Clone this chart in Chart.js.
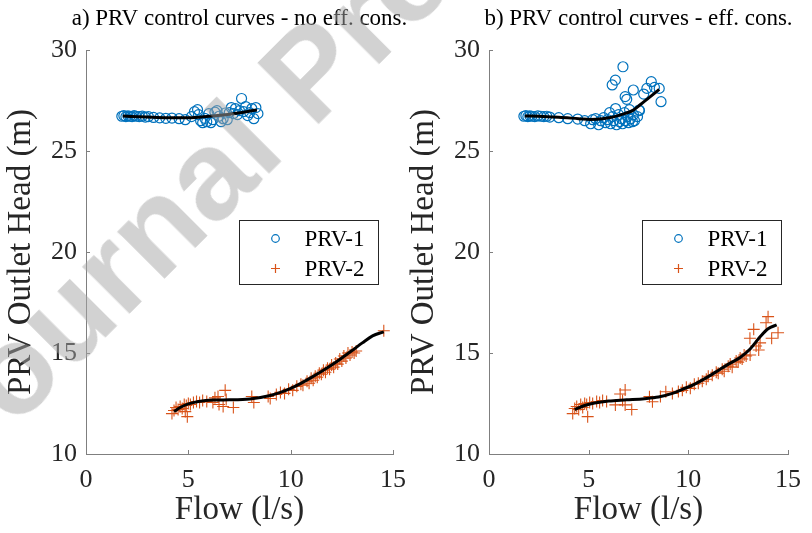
<!DOCTYPE html>
<html>
<head>
<meta charset="utf-8">
<script src="https://cdn.jsdelivr.net/npm/chart.js@4/dist/chart.umd.min.js"></script>
<style>
  html, body { margin: 0; padding: 0; background: #ffffff; }
  #wrap { position: relative; width: 812px; height: 533px; overflow: hidden; background: #ffffff; }
  #wrap canvas { position: absolute; left: 0; top: 0; }
  #wm { position: absolute; left: -112px; top: 404px; font-family: "Liberation Sans", Arial, sans-serif;
        font-weight: bold; font-size: 127px; line-height: 1; white-space: nowrap; color: rgba(165,165,165,0.5);
        transform-origin: 0 0; transform: rotate(-45deg); pointer-events: none; }
</style>
</head>
<body>
<div id="wrap">
  <canvas id="cA" width="812" height="533"></canvas>
  <canvas id="cB" width="812" height="533"></canvas>
  <div id="wm">Journal Pre-proof</div>
</div>
<script>
// ---------- data ----------
const titles = ["a) PRV control curves - no eff. cons.", "b) PRV control curves - eff. cons."];
const seriesNames = ["PRV-1", "PRV-2"];
const xTicks = [0, 5, 10, 15];
const yTicks = [10, 15, 20, 25, 30];
const xLabel = "Flow (l/s)";
const yLabel = "PRV Outlet Head (m)";

// panel a) PRV-1 scatter  [flow, head]
const prv1A = [[1.75,26.72],[1.85,26.75],[1.95,26.70],[2.05,26.74],[2.15,26.72],[2.25,26.70],[2.35,26.75],[2.45,26.72],[2.6,26.70],[2.75,26.73],[2.9,26.68],[3.05,26.70],[3.3,26.66],[3.6,26.64],[3.9,26.62],[4.2,26.63],[4.55,26.60],[4.85,26.55],[5.15,26.70],[5.3,26.95],[5.45,27.05],[5.5,26.80],[5.6,26.50],[5.7,26.40],[5.8,26.62],[5.9,26.45],[6.0,26.85],[6.1,26.40],[6.2,26.55],[6.3,26.92],[6.4,27.00],[6.5,26.72],[6.6,26.45],[6.7,26.60],[6.8,26.88],[6.9,26.55],[7.0,26.90],[7.1,27.15],[7.2,26.85],[7.3,27.10],[7.4,26.80],[7.5,27.00],[7.6,27.60],[7.7,26.95],[7.8,27.20],[7.9,26.75],[8.0,26.90],[8.1,27.10],[8.2,26.60],[8.3,27.15],[8.4,26.85]];
// panel a) PRV-1 control curve
const fit1A = [[1.8,26.73],[3.0,26.68],[4.0,26.65],[5.0,26.65],[6.0,26.72],[7.0,26.82],[8.35,27.03]];
// panel a) PRV-2 scatter
const prv2A = [[4.2,12.0],[4.3,12.15],[4.4,12.3],[4.5,12.2],[4.6,12.35],[4.7,12.25],[4.8,12.45],[4.9,12.4],[4.95,11.85],[4.85,12.1],[5.0,12.5],[5.1,12.45],[5.25,12.55],[5.4,12.6],[5.55,12.55],[5.7,12.65],[5.9,12.6],[6.2,12.55],[6.3,12.78],[6.45,12.85],[6.5,12.45],[6.7,12.35],[6.8,13.15],[6.85,12.7],[7.2,12.3],[8.1,12.85],[8.2,12.55],[8.9,12.85],[9.0,12.75],[9.3,12.95],[9.5,13.05],[9.7,13.0],[9.9,13.2],[10.1,13.15],[10.3,13.35],[10.5,13.45],[10.6,13.4],[10.8,13.6],[10.9,13.5],[11.0,13.75],[11.1,13.65],[11.2,13.85],[11.3,13.8],[11.4,14.0],[11.5,13.95],[11.6,14.15],[11.7,14.05],[11.8,14.25],[11.9,14.2],[12.0,14.4],[12.1,14.3],[12.2,14.5],[12.3,14.45],[12.4,14.7],[12.5,14.6],[12.6,14.85],[12.7,14.75],[12.8,15.0],[12.9,14.9],[13.0,15.05],[13.1,15.0],[13.2,15.1],[14.55,16.1]];
// panel a) PRV-2 control curve
const fit2A = [[4.3,12.1],[4.6,12.3],[5.0,12.48],[5.5,12.6],[6.2,12.67],[7.0,12.68],[8.0,12.72],[9.0,12.9],[9.5,13.05],[10.0,13.25],[10.5,13.5],[11.0,13.78],[11.5,14.08],[12.0,14.4],[12.5,14.75],[13.0,15.12],[13.5,15.5],[14.0,15.85],[14.55,16.05]];

// panel b) PRV-1 scatter
const prv1B = [[1.75,26.72],[1.85,26.75],[1.95,26.7],[2.05,26.74],[2.15,26.72],[2.3,26.7],[2.45,26.74],[2.6,26.72],[2.75,26.7],[2.9,26.72],[3.05,26.68],[3.5,26.65],[3.95,26.6],[4.45,26.58],[4.8,26.5],[5.1,26.35],[5.2,26.55],[5.35,26.6],[5.5,26.3],[5.6,26.5],[5.75,26.65],[5.85,26.4],[5.95,26.55],[6.05,26.9],[6.1,26.35],[6.2,26.7],[6.25,26.5],[6.35,27.1],[6.4,26.3],[6.5,26.8],[6.55,26.45],[6.65,26.6],[6.7,26.35],[6.8,26.9],[6.85,26.5],[6.95,26.7],[7.0,26.4],[7.05,27.05],[7.1,26.6],[7.2,26.45],[7.25,26.8],[7.3,26.5],[7.45,26.7],[7.55,27.0],[6.72,29.17],[6.18,28.27],[6.34,28.51],[6.83,27.69],[6.91,27.56],[7.24,28.02],[7.53,27.03],[7.76,27.82],[7.92,28.1],[8.14,28.43],[8.3,28.15],[8.54,28.1],[8.63,27.44]];
// panel b) PRV-1 control curve
const fit1B = [[1.8,26.73],[2.5,26.72],[3.5,26.67],[4.5,26.6],[5.1,26.56],[5.7,26.6],[6.3,26.7],[6.8,26.85],[7.2,27.0],[7.6,27.3],[8.0,27.62],[8.54,28.05]];
// panel b) PRV-2 scatter
const prv2B = [[4.2,12.0],[4.3,12.25],[4.4,12.35],[4.5,12.2],[4.6,12.45],[4.7,12.3],[4.8,12.5],[4.9,12.45],[4.95,11.85],[5.05,12.55],[5.2,12.5],[5.4,12.6],[5.55,12.55],[5.7,12.65],[5.9,12.6],[6.34,12.43],[6.58,12.97],[6.83,13.17],[6.83,12.43],[7.16,12.2],[6.7,12.65],[8.05,12.84],[8.2,12.59],[8.87,13.08],[8.6,12.85],[9.2,13.0],[9.5,13.1],[9.7,13.15],[9.9,13.3],[10.1,13.25],[10.3,13.45],[10.5,13.5],[10.7,13.6],[10.9,13.7],[11.0,13.85],[11.2,13.9],[11.4,14.05],[11.5,14.0],[11.7,14.2],[11.8,14.1],[12.0,14.35],[12.1,14.45],[12.2,14.3],[12.4,14.6],[12.5,14.55],[12.6,14.75],[12.7,14.7],[12.8,14.9],[12.9,14.85],[13.1,14.9],[13.09,15.73],[13.28,16.17],[13.53,15.15],[13.9,16.5],[14.0,16.8],[14.18,15.73],[14.5,16.0],[13.6,15.5],[13.4,15.35]];
// panel b) PRV-2 control curve
const fit2B = [[4.3,12.2],[4.8,12.4],[5.3,12.52],[6.0,12.62],[6.9,12.68],[7.8,12.74],[8.5,12.82],[9.2,13.0],[9.7,13.2],[10.3,13.45],[11.0,13.83],[11.6,14.2],[12.1,14.5],[12.6,14.78],[13.1,15.2],[13.6,15.8],[14.0,16.2],[14.43,16.39]];

// ---------- styling ----------
const BLUE = "#0072BD", ORANGE = "#D95319";
const SERIF = "'Liberation Serif', 'Times New Roman', serif";
const AXIS_COLOR = "#7f7f7f";
const TEXT_COLOR = "#262626";

const pts = arr => arr.map(p => ({x: p[0], y: p[1]}));

const matlabPlugin = {
  id: 'matlabDecor',
  afterDraw(chart) {
    const ctx = chart.ctx, xs = chart.scales.x, ys = chart.scales.y, a = chart.chartArea;
    ctx.save();
    // panel title, centred over the axes
    ctx.fillStyle = "#000000";
    ctx.font = "23px " + SERIF;
    ctx.textAlign = "center"; ctx.textBaseline = "middle";
    ctx.fillText(chart.options.panelTitle, (a.left + a.right) / 2, 19);
    // inward ticks
    ctx.strokeStyle = AXIS_COLOR; ctx.lineWidth = 1;
    ctx.beginPath();
    xTicks.forEach(v => { const px = Math.round(xs.getPixelForValue(v)) + 0.5; ctx.moveTo(px, a.bottom); ctx.lineTo(px, a.bottom - 4); });
    yTicks.forEach(v => { const py = Math.round(ys.getPixelForValue(v)) + 0.5; ctx.moveTo(a.left, py); ctx.lineTo(a.left + 4, py); });
    ctx.stroke();
    // legend box
    const bx = Math.round(a.left + 153) + 0.5, by = Math.round(a.top + 170) + 0.5, bw = 139, bh = 64;
    ctx.fillStyle = "#ffffff";
    ctx.fillRect(bx, by, bw, bh);
    ctx.strokeStyle = TEXT_COLOR; ctx.lineWidth = 1;
    ctx.strokeRect(bx, by, bw, bh);
    const mx = bx + 36, y1 = by + 18, y2 = by + 48;
    ctx.lineWidth = 1.2;
    ctx.strokeStyle = BLUE;
    ctx.beginPath(); ctx.arc(mx, y1, 3.8, 0, Math.PI * 2); ctx.stroke();
    ctx.strokeStyle = ORANGE;
    ctx.beginPath(); ctx.moveTo(mx - 4.5, y2); ctx.lineTo(mx + 4.5, y2); ctx.moveTo(mx, y2 - 4.5); ctx.lineTo(mx, y2 + 4.5); ctx.stroke();
    ctx.fillStyle = "#000000";
    ctx.font = "23px " + SERIF;
    ctx.textAlign = "left"; ctx.textBaseline = "middle";
    ctx.fillText(seriesNames[0], bx + 65, y1 + 1);
    ctx.fillText(seriesNames[1], bx + 65, y2 + 1);
    ctx.restore();
  }
};

function makeChart(id, title, padL, padR, s1, f1, s2, f2) {
  return new Chart(document.getElementById(id), {
    type: 'scatter',
    data: {
      datasets: [
        { label: seriesNames[0] + ' curve', type: 'line', data: pts(f1), borderColor: '#000', borderWidth: 3, pointRadius: 0, fill: false, cubicInterpolationMode: 'monotone', order: 0 },
        { label: seriesNames[1] + ' curve', type: 'line', data: pts(f2), borderColor: '#000', borderWidth: 3, pointRadius: 0, fill: false, cubicInterpolationMode: 'monotone', order: 0 },
        { label: seriesNames[0], data: pts(s1), showLine: false, pointStyle: 'circle', pointRadius: 5, borderColor: BLUE, backgroundColor: 'rgba(0,0,0,0)', borderWidth: 1.2, order: 1 },
        { label: seriesNames[1], data: pts(s2), showLine: false, pointStyle: 'cross', pointRadius: 6, borderColor: ORANGE, backgroundColor: ORANGE, borderWidth: 1.1, order: 1 }
      ]
    },
    options: {
      panelTitle: title,
      responsive: false, animation: false, events: [],
      layout: { padding: { left: padL, right: padR, top: 50, bottom: 0 } },
      plugins: {
        legend: { display: false },
        tooltip: { enabled: false },
        title: { display: false }
      },
      scales: {
        x: {
          type: 'linear', min: 0, max: 15,
          afterBuildTicks: s => { s.ticks = xTicks.map(v => ({ value: v })); },
          afterFit: s => { s.height = 79; },
          grid: { display: false, drawTicks: false },
          border: { display: true, color: AXIS_COLOR, width: 1 },
          ticks: { padding: 11, color: TEXT_COLOR, font: { family: SERIF, size: 26 }, maxRotation: 0 },
          title: { display: true, text: xLabel, color: TEXT_COLOR, font: { family: SERIF, size: 33 }, padding: { top: 0, bottom: 2.5 } }
        },
        y: {
          type: 'linear', min: 10, max: 30,
          afterBuildTicks: s => { s.ticks = yTicks.map(v => ({ value: v })); },
          afterFit: s => { s.width = 86; },
          grid: { display: false, drawTicks: false },
          border: { display: true, color: AXIS_COLOR, width: 1 },
          ticks: { padding: 9, color: TEXT_COLOR, font: { family: SERIF, size: 26 } },
          title: { display: true, text: yLabel, color: TEXT_COLOR, font: { family: SERIF, size: 33 }, padding: { top: 2, bottom: 0 } }
        }
      }
    },
    plugins: [matlabPlugin]
  });
}

makeChart('cA', titles[0], 0, 419, prv1A, fit1A, prv2A, fit2A);
makeChart('cB', titles[1], 403, 17, prv1B, fit1B, prv2B, fit2B);
</script>
</body>
</html>
